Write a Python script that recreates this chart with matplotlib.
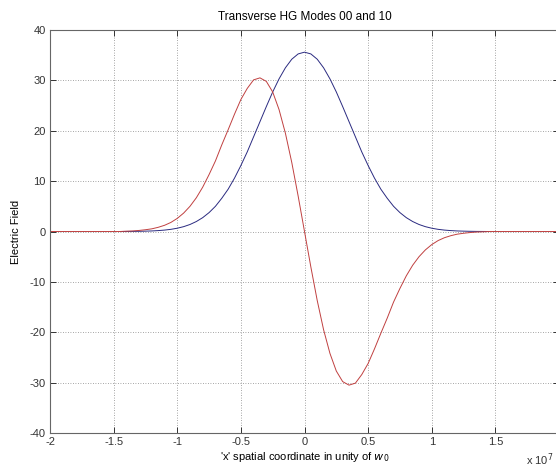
import matplotlib
matplotlib.use('Agg')
import matplotlib.pyplot as plt

plt.rcParams['font.family'] = ['Liberation Sans', 'DejaVu Sans']
plt.rcParams['axes.unicode_minus'] = False

# values, x in axis units
x = [-1.45, -1.4, -1.35, -1.3, -1.25, -1.2, -1.15, -1.1, -1.05, -1.0,
     -0.95, -0.9, -0.85, -0.8, -0.75, -0.7, -0.65, -0.6, -0.55, -0.5,
     -0.45, -0.4, -0.35, -0.3, -0.25, -0.2, -0.15, -0.1, -0.05, 0.0,
     0.05, 0.1, 0.15, 0.2, 0.25, 0.3, 0.35, 0.4, 0.45, 0.5,
     0.55, 0.6, 0.65, 0.7, 0.75, 0.8, 0.85, 0.9, 0.95, 1.0,
     1.05, 1.1, 1.15, 1.2, 1.25, 1.3, 1.35, 1.4, 1.45]

# HG 00 mode
hg00 = [0.0, 0.01, 0.02, 0.04, 0.07, 0.11, 0.18, 0.28, 0.43, 0.65,
        0.96, 1.39, 1.98, 2.75, 3.75, 5.0, 6.6, 8.4, 10.6, 13.1,
        15.8, 18.8, 21.8, 24.8, 27.7, 30.3, 32.5, 34.2, 35.25, 35.6,
        35.25, 34.2, 32.5, 30.3, 27.7, 24.8, 21.8, 18.8, 15.8, 13.1,
        10.6, 8.4, 6.6, 5.0, 3.75, 2.75, 1.98, 1.39, 0.96, 0.65,
        0.43, 0.28, 0.18, 0.11, 0.07, 0.04, 0.02, 0.01, 0.0]

# HG 10 mode (runs over the whole axis)
x10 = [-2.0] + x + [2.0]
hg10 = [0.0,
        0.0, 0.06, 0.11, 0.21, 0.35, 0.53, 0.83, 1.23, 1.8, 2.6,
        3.65, 5.0, 6.7, 8.8, 11.3, 14.0, 17.2, 20.2, 23.3, 26.2,
        28.4, 30.1, 30.5, 29.8, 27.7, 24.2, 19.5, 13.7, 7.05, 0.0,
        -7.05, -13.7, -19.5, -24.2, -27.7, -29.8, -30.5, -30.1, -28.4, -26.2,
        -23.3, -20.2, -17.2, -14.0, -11.3, -8.8, -6.7, -5.0, -3.65, -2.6,
        -1.8, -1.23, -0.83, -0.53, -0.35, -0.21, -0.11, -0.06, 0.0,
        0.0]

xticks = [-2, -1.5, -1, -0.5, 0, 0.5, 1, 1.5, 2]
# the label of the last tick falls outside the picture
xticklabels = ['-2', '-1.5', '-1', '-0.5', '0', '0.5', '1', '1.5', '']
yticks = [-40, -30, -20, -10, 0, 10, 20, 30, 40]

fig = plt.figure(figsize=(5.56, 4.71), dpi=100)
# axes box runs past the right edge of the image, as in the reference
ax = fig.add_axes([50 / 556, 38 / 471, 509 / 556, 403 / 471])

ax.plot(x, hg00, color='#2a2a80', lw=0.7)
ax.plot(x10, hg10, color='#c04040', lw=0.7)

ax.set_xlim(-2, 2)
ax.set_ylim(-40, 40)
ax.set_xticks(xticks)
ax.set_xticklabels(xticklabels)
ax.set_yticks(yticks)

ax.grid(True, color='#888888', linestyle=(0, (1, 2)), linewidth=0.6)
ax.tick_params(direction='in', length=4, width=0.7, top=True, right=True,
               labelsize=8, colors='#333333', pad=3)
for s in ax.spines.values():
    s.set_color('#666666')
    s.set_linewidth(0.8)

ax.set_title('Transverse HG Modes 00 and 10', fontsize=8.5, pad=7)
ax.set_xlabel("'x' spatial coordinate in unity of $w_0$", fontsize=8, labelpad=2)
ax.set_ylabel('Electric Field', fontsize=8, labelpad=6)

fig.text(526 / 556, 1 - 465 / 471, r'x 10$^{7}$', fontsize=8, color='#333333')

fig.savefig('out.png', dpi=100)
